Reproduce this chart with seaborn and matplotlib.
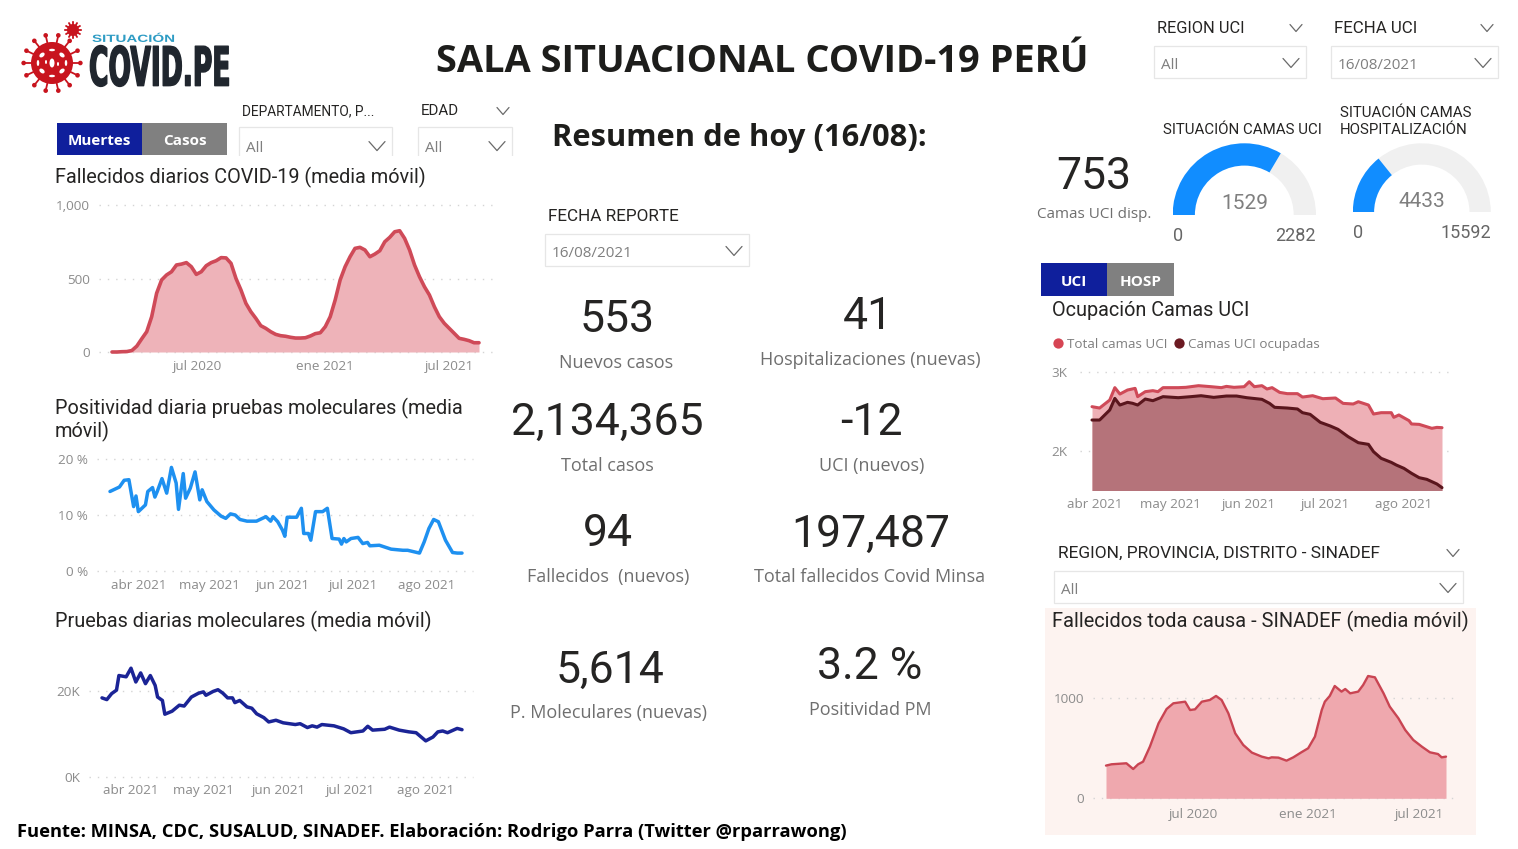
import numpy as np
import pandas as pd
import matplotlib
matplotlib.use('Agg')
import matplotlib.pyplot as plt
import matplotlib.patheffects as pe
from matplotlib.patches import Rectangle, Wedge, Circle, Ellipse
from matplotlib.transforms import Affine2D
import seaborn as sns

# ---- data ----
# fallecidos diarios, one value a week from 2020-03-01 to 2021-08-16
fallecidos = [0, 0, 2, 3, 10, 40, 90, 138, 240, 400, 490, 524, 546, 592, 598, 608, 580, 528, 546, 587,
              608, 621, 642, 640, 603, 500, 422, 331, 274, 229, 179, 161, 138, 120, 111, 107, 100, 95,
              95, 97, 109, 125, 131, 172, 240, 354, 490, 580, 648, 705, 712, 694, 648, 666, 689, 750,
              780, 818, 825, 773, 694, 592, 512, 444, 388, 308, 240, 195, 161, 127, 93, 86, 77, 63, 63]

# positividad, days since 2021-03-20
pos_dias = [0, 2, 4, 6, 8, 10, 11, 12, 15, 16, 18, 19, 20, 22, 24, 26, 28, 29, 31, 32, 34, 36, 38, 39,
            41, 44, 47, 49, 51, 53, 55, 58, 62, 66, 68, 69, 71, 73, 74, 75, 79, 81, 82, 84, 85, 87, 90,
            92, 94, 97, 98, 99, 100, 102, 105, 107, 109, 110, 114, 119, 124, 126, 131, 133, 135, 137,
            139, 142, 145, 147, 149]
positividad = [14.2, 14.6, 15.0, 16.2, 16.3, 11.5, 13.4, 10.6, 11.8, 14.2, 14.9, 13.2, 14.2, 16.5, 13.9,
               18.5, 15.7, 11.0, 17.4, 13.0, 14.8, 17.7, 12.7, 14.5, 12.4, 10.9, 9.8, 9.4, 10.2, 10.0,
               9.2, 8.9, 8.9, 9.7, 8.9, 9.7, 8.8, 7.3, 6.2, 9.6, 9.6, 11.2, 6.7, 6.7, 5.5, 10.6, 10.6,
               11.2, 5.8, 5.7, 4.8, 5.8, 5.2, 5.8, 6.0, 4.9, 5.1, 4.5, 4.6, 3.9, 3.7, 3.7, 3.2, 5.2,
               7.6, 9.2, 8.8, 5.5, 3.3, 3.2, 3.2]

# pruebas moleculares, days since 2021-03-20
pruebas_dias = [0, 2, 4, 6, 7, 10, 12, 14, 16, 18, 20, 22, 23, 25, 26, 29, 32, 34, 37, 40, 42, 43, 46, 48,
                50, 52, 54, 55, 57, 60, 62, 64, 67, 69, 72, 75, 80, 82, 85, 87, 89, 91, 96, 100, 103,
                108, 110, 112, 117, 119, 123, 127, 130, 134, 137, 139, 141, 143, 147, 149]
pruebas = [18400, 18000, 19400, 20200, 23600, 23300, 25300, 22100, 24200, 21700, 23600, 21300, 18600,
           17800, 14600, 15300, 16700, 16500, 18600, 19500, 19800, 19000, 19900, 20300, 19500, 18400,
           18400, 17300, 17800, 16300, 16000, 14700, 13800, 12800, 13200, 12600, 12200, 12400, 11500,
           11900, 11600, 12200, 11900, 11200, 10300, 10700, 11800, 10900, 11100, 11600, 10900, 10500,
           10300, 8400, 9300, 10500, 10700, 10300, 11300, 11000]

# camas UCI, days since 2021-03-31
total_dias = [0, 3, 7, 9, 11, 14, 17, 18, 21, 24, 26, 28, 34, 37, 42, 47, 51, 53, 56, 60, 62, 64, 67, 69,
              71, 74, 77, 81, 83, 87, 91, 96, 99, 103, 105, 109, 111, 114, 118, 119, 121, 125, 126, 129,
              134, 136, 138]
total_uci = [2557, 2540, 2641, 2798, 2717, 2768, 2789, 2684, 2747, 2760, 2747, 2798, 2798, 2802, 2823,
             2810, 2798, 2814, 2802, 2810, 2873, 2810, 2823, 2781, 2798, 2738, 2722, 2722, 2679, 2696,
             2658, 2667, 2599, 2591, 2620, 2578, 2464, 2481, 2481, 2422, 2452, 2380, 2338, 2333, 2283,
             2295, 2291]
ocup_dias = [0, 3, 7, 9, 11, 14, 16, 18, 21, 24, 28, 34, 39, 43, 48, 53, 57, 61, 67, 70, 72, 77, 81, 83,
             86, 90, 94, 97, 101, 105, 109, 111, 114, 118, 120, 123, 126, 129, 132, 136, 138]
ocupadas_uci = [2388, 2388, 2515, 2662, 2578, 2612, 2600, 2578, 2654, 2633, 2684, 2671, 2684, 2696, 2675,
                2692, 2692, 2671, 2650, 2599, 2549, 2540, 2528, 2481, 2460, 2359, 2312, 2270, 2177, 2101,
                2080, 1987, 1903, 1852, 1818, 1776, 1713, 1658, 1637, 1578, 1532]

# sinadef, days since 2020-02-13
sinadef_dias = [0, 9, 33, 44, 52, 60, 71, 85, 98, 109, 128, 136, 144, 155, 168, 178, 187, 198, 209, 222,
                236, 252, 263, 268, 279, 292, 303, 316, 327, 338, 349, 354, 362, 370, 381, 387, 395, 408,
                416, 424, 435, 449, 459, 473, 484, 497, 511, 524, 537, 543, 550]
sinadef = [325, 338, 348, 291, 338, 364, 513, 745, 887, 944, 960, 877, 884, 960, 977, 1017, 977, 844, 646,
           530, 454, 414, 397, 407, 404, 374, 407, 457, 497, 613, 877, 960, 1017, 1116, 1060, 1086, 1043,
           1060, 1126, 1215, 1202, 1043, 911, 795, 679, 580, 513, 457, 440, 407, 414]

gauge_uci = [1529, 2282]
gauge_hosp = [4433, 15592]

meses_largo = ['2020-07-03', '2021-01-04', '2021-07-04']
meses_largo_txt = ['jul 2020', 'ene 2021', 'jul 2021']
meses_corto = ['2021-04-01', '2021-05-01', '2021-06-01', '2021-07-01', '2021-08-01']
meses_corto_txt = ['abr 2021', 'may 2021', 'jun 2021', 'jul 2021', 'ago 2021']

# big numbers: value, caption, x/y of value, x/y of caption
kpis = [('553', 'Nuevos casos', 617, 316, 616, 361),
        ('41', 'Hospitalizaciones (nuevas)', 868, 313, 870, 358),
        ('2,134,365', 'Total casos', 607, 419, 607, 464),
        ('-12', 'UCI (nuevos)', 871, 419, 872, 464),
        ('94', 'Fallecidos  (nuevos)', 608, 530, 608, 575),
        ('197,487', 'Total fallecidos Covid Minsa', 871, 531, 870, 575),
        ('5,614', 'P. Moleculares (nuevas)', 610, 667, 608, 711),
        ('3.2 %', 'Positividad PM', 870, 663, 870, 708),
        ('753', 'Camas UCI disp.', 1094, 173, 1094, 213)]

W, H = 1518, 849
FIN = pd.Timestamp('2021-08-16')
ROJO, ROJO_F = '#CF4A58', '#EEB3B9'
DIN = 'Roboto'
SEGOE = 'Open Sans'
GRIS = '#8c8c8c'

sns.set_theme(style='white')
plt.rcParams['font.family'] = ['Open Sans', 'DejaVu Sans']
plt.rcParams['axes.unicode_minus'] = False

fig = plt.figure(figsize=(W / 100, H / 100), dpi=100, facecolor='white')

# overlay in pixel coordinates for the report furniture
bg = fig.add_axes([0, 0, 1, 1], zorder=0)
bg.set_xlim(0, W)
bg.set_ylim(H, 0)
bg.axis('off')


class Squeeze(pe.AbstractPathEffect):
    # the logo lettering is much narrower than any installed font
    def __init__(self, sx, lw=0):
        self.sx = sx
        self.lw = lw

    def draw_path(self, renderer, gc, tpath, affine, rgbFace=None):
        x0 = affine.to_values()[4]
        t = affine + Affine2D().translate(-x0, 0).scale(self.sx, 1).translate(x0, 0)
        gc0 = renderer.new_gc()
        gc0.copy_properties(gc)
        if self.lw:
            gc0.set_linewidth(self.lw)
            gc0.set_foreground(rgbFace)
        renderer.draw_path(gc0, tpath, t, rgbFace)
        gc0.restore()


def txt(x, y, s, size=11, color='#252423', family=DIN, ha='left', weight='normal', **kw):
    return bg.text(x, y + size * 0.12, s, fontsize=size, color=color, family=family, ha=ha, va='center',
                   weight=weight, **kw)


def chevron(x, y, w=7, h=4):
    bg.plot([x - w, x, x + w], [y - h, y + h, y - h], color='#6a6a6a', lw=0.9)


def slicer(x0, x1, y0, y1, value, label, lx, ly, lsize, lchev=None):
    bg.add_patch(Rectangle((x0, y0), x1 - x0, y1 - y0, fc='white', ec='#e6e6e6', lw=0.9))
    txt(x0 + 7, y0 + (y1 - y0) * 0.56, value, size=11, color='#7f7f7f', family=SEGOE)
    chevron(x1 - 15, y0 + (y1 - y0) * 0.53, w=8, h=4.5)
    txt(lx, ly, label, size=lsize)
    if lchev:
        chevron(lchev, ly + 1, w=6, h=3.5)


def boton(x0, x1, y0, y1, s, fc):
    bg.add_patch(Rectangle((x0, y0), x1 - x0, y1 - y0, fc=fc, ec='none'))
    txt((x0 + x1) / 2, (y0 + y1) / 2 + 1, s, size=11, color='white', family=SEGOE, ha='center', weight='bold')


def virus(cx, cy, r, n):
    ang = np.linspace(0, 2 * np.pi, n, endpoint=False)
    for a in ang:
        bg.plot([cx + r * 0.8 * np.cos(a), cx + r * 1.3 * np.cos(a)],
                [cy + r * 0.8 * np.sin(a), cy + r * 1.3 * np.sin(a)], color='#C8141E', lw=1.3)
        bg.add_patch(Circle((cx + r * 1.35 * np.cos(a), cy + r * 1.35 * np.sin(a)), r * 0.11, fc='#C8141E', ec='none'))
    bg.add_patch(Circle((cx, cy), r, fc='#C8141E', ec='none'))


def chart_ax(x0, x1, ytop, ybot):
    ax = fig.add_axes([x0 / W, 1 - ybot / H, (x1 - x0) / W, (ybot - ytop) / H], zorder=2)
    ax.patch.set_visible(False)
    return ax


def estilo(ax, yticks, ylabels, xticks, xlabels, pad_y=6.5, pad_x=6):
    sns.despine(ax=ax, left=True, bottom=True)
    ax.set_xlabel('')
    ax.set_ylabel('')
    ax.set_yticks(yticks)
    ax.set_yticklabels(ylabels)
    ax.set_xticks(pd.to_datetime(xticks))
    ax.set_xticklabels(xlabels)
    ax.tick_params(axis='both', length=0, labelsize=9.7, labelcolor=GRIS)
    ax.tick_params(axis='y', pad=pad_y)
    ax.tick_params(axis='x', pad=pad_x)
    ax.grid(axis='y', color='#d4d4d4', lw=1, linestyle=(0, (1, 5)))
    ax.grid(axis='x', visible=False)
    for g in ax.get_ygridlines():
        g.set_clip_on(False)
    for t in ax.get_xticklabels() + ax.get_yticklabels():
        t.set_family(SEGOE)


def xlim_px(ax, d0, d1, xs, xe):
    # keep the line between xs and xe px inside the axes box
    box = ax.get_position()
    x0, x1 = box.x0 * W, box.x1 * W
    ppd = (xe - xs) / (d1 - d0).days
    ax.set_xlim(d0 - pd.Timedelta(days=(xs - x0) / ppd), d1 + pd.Timedelta(days=(x1 - xe) / ppd))


# ---- header ----
virus(52, 63, 21, 14)
for dx, dy, w, h, a in [(0, 0, 5, 9, 0), (-10, -8, 4, 6, 50), (10, -8, 4, 6, -50), (-10, 8, 4, 6, -50),
                        (10, 8, 4, 6, 50), (0, -13, 6, 2.5, 0), (0, 13, 6, 2.5, 0), (-14, 0, 2.5, 6, 0),
                        (14, 0, 2.5, 6, 0), (-6, -1, 2, 4, 0), (6, 1, 2, 4, 0)]:
    bg.add_patch(Ellipse((52 + dx, 63 + dy), w, h, angle=a, fc='white', ec='none'))
virus(73, 30, 6, 12)
txt(92, 38, 'SITUACIÓN', size=7.5, color='#2E9CC4', family='Liberation Sans', weight='bold',
    path_effects=[Squeeze(1.45)])
txt(89, 66, 'COVID.PE', size=39, color='#20262E', family='Liberation Sans Narrow', weight='bold',
    path_effects=[Squeeze(0.49, lw=1.0)])
txt(762, 59, 'SALA SITUACIONAL COVID-19 PERÚ', size=27.4, color='#1d1d1b', family=SEGOE, ha='center', weight='bold')
txt(552, 135, 'Resumen de hoy (16/08):', size=22.2, color='#1d1d1b', family=SEGOE, weight='bold')

# ---- slicers and buttons ----
boton(57, 142, 123, 155, 'Muertes', '#0F1F9C')
boton(142, 227, 123, 155, 'Casos', '#808080')
boton(1041, 1107, 263, 296, 'UCI', '#0F1F9C')
boton(1107, 1174, 263, 296, 'HOSP', '#808080')
slicer(239, 392, 127, 163, 'All', 'DEPARTAMENTO, P...', 242, 110, 9.9)
slicer(418, 512, 127, 163, 'All', 'EDAD', 421, 110, 10.8, 503)
bg.add_patch(Rectangle((230, 156), 290, 12, fc='white', ec='none', zorder=3))
slicer(1154, 1306, 46, 78, 'All', 'REGION UCI', 1157, 27, 11.8, 1296)
slicer(1331, 1498, 46, 78, '16/08/2021', 'FECHA UCI', 1334, 27, 12.2, 1487)
slicer(545, 749, 234, 266, '16/08/2021', 'FECHA REPORTE', 548, 215, 12.3)
slicer(1054, 1463, 571, 603, 'All', 'REGION, PROVINCIA, DISTRITO - SINADEF', 1058, 552, 12.5, 1453)

# ---- big numbers ----
for valor, caption, vx, vy, cx, cy in kpis:
    txt(vx, vy, valor, size=32, color='#252423', ha='center')
    txt(cx, cy, caption, size=13 if vx < 1000 else 11, color='#6f6f6f', family=SEGOE, ha='center')

# ---- left charts ----
txt(55, 176, 'Fallecidos diarios COVID-19 (media móvil)', size=14.3)
ax1 = chart_ax(99, 492, 205, 352)
fechas1 = pd.date_range('2020-03-01', FIN, periods=len(fallecidos))
ax1.fill_between(fechas1, fallecidos, color=ROJO_F, lw=0)
sns.lineplot(x=fechas1, y=fallecidos, ax=ax1, color=ROJO, linewidth=2.6, clip_on=False)
ax1.set_ylim(0, 1000)
xlim_px(ax1, fechas1[0], FIN, 112, 479)
estilo(ax1, [0, 500, 1000], ['0', '500', '1,000'], meses_largo, meses_largo_txt)

txt(55, 407, 'Positividad diaria pruebas moleculares (media', size=14.3)
txt(55, 430, 'móvil)', size=14.3)
ax2 = chart_ax(97, 473, 459, 571)
fechas2 = pd.Timestamp('2021-03-20') + pd.to_timedelta(pos_dias, unit='D')
sns.lineplot(x=fechas2, y=positividad, ax=ax2, color='#1E90F0', linewidth=2.5, clip_on=False)
ax2.set_ylim(0, 20)
xlim_px(ax2, fechas2[0], FIN, 110, 462)
estilo(ax2, [0, 10, 20], ['0 %', '10 %', '20 %'], meses_corto, meses_corto_txt)

txt(55, 620, 'Pruebas diarias moleculares (media móvil)', size=14.3)
ax3 = chart_ax(89, 473, 648, 777)
fechas3 = pd.Timestamp('2021-03-20') + pd.to_timedelta(pruebas_dias, unit='D')
sns.lineplot(x=fechas3, y=pruebas, ax=ax3, color='#1B2496', linewidth=2.5, clip_on=False)
ax3.set_ylim(0, 30000)
xlim_px(ax3, fechas3[0], FIN, 102, 462)
estilo(ax3, [0, 20000], ['0K', '20K'], meses_corto, meses_corto_txt, pad_x=5)

# ---- gauges ----
for s, x, y in [('SITUACIÓN CAMAS UCI', 1163, 129), ('SITUACIÓN CAMAS', 1340, 112), ('HOSPITALIZACIÓN', 1340, 129)]:
    txt(x, y, s, size=10.8)

for (valor, tope), (cx, cy, r, grosor) in zip([gauge_uci, gauge_hosp],
                                             [(1244.3, 215, 71.7, 22.3), (1421.8, 212.3, 69, 21.3)]):
    g = fig.add_axes([(cx - r) / W, 1 - cy / H, 2 * r / W, r / H], zorder=2)
    g.set_xlim(-1, 1)
    g.set_ylim(0, 1)
    g.axis('off')
    ang = 180 - 180 * valor / tope
    g.add_patch(Wedge((0, 0), 1, 0, ang, width=grosor / r, fc='#F0F0F0', ec='none'))
    g.add_patch(Wedge((0, 0), 1, ang, 180, width=grosor / r, fc='#118DFF', ec='none'))
for s, x, y, size, c in [('1529', 1245, 202, 15, '#7f7f7f'), ('0', 1178, 234, 13, '#666666'),
                         ('2282', 1295, 234, 13, '#666666'), ('4433', 1422, 200, 15, '#7f7f7f'),
                         ('0', 1358, 231, 13, '#666666'), ('15592', 1466, 231, 13, '#666666')]:
    txt(x, y, s, size=size, color=c, ha='center')

# ---- camas UCI ----
txt(1052, 309, 'Ocupación Camas UCI', size=14.3)
bg.scatter([1058], [343], s=55, color='#D64554', lw=0)
bg.scatter([1179], [343], s=55, color='#6B1A22', lw=0)
txt(1067, 343, 'Total camas UCI', size=9.6, color='#7f7f7f', family=SEGOE)
txt(1188, 343, 'Camas UCI ocupadas', size=9.6, color='#7f7f7f', family=SEGOE)

ax4 = chart_ax(1080, 1448, 371.7, 490)
fechas4a = pd.Timestamp('2021-03-31') + pd.to_timedelta(total_dias, unit='D')
fechas4b = pd.Timestamp('2021-03-31') + pd.to_timedelta(ocup_dias, unit='D')
ax4.fill_between(fechas4a, total_uci, 1000, color='#EEB0B6', lw=0)
ax4.fill_between(fechas4b, ocupadas_uci, 1000, color='#B5737A', lw=0)
sns.lineplot(x=fechas4a, y=total_uci, ax=ax4, color=ROJO, linewidth=2.2, clip_on=False)
sns.lineplot(x=fechas4b, y=ocupadas_uci, ax=ax4, color='#5A161D', linewidth=2.2, clip_on=False)
ax4.set_ylim(1502, 3000)
xlim_px(ax4, fechas4a[0], FIN, 1092, 1442)
estilo(ax4, [2000, 3000], ['2K', '3K'], meses_corto, meses_corto_txt, pad_y=9)

# ---- sinadef ----
bg.add_patch(Rectangle((1045, 608), 431, 227, fc='#FDF3F0', ec='none'))
txt(1052, 620, 'Fallecidos toda causa - SINADEF (media móvil)', size=14.4)
ax5 = chart_ax(1092.7, 1456, 657.4, 798.3)
fechas5 = pd.Timestamp('2020-02-13') + pd.to_timedelta(sinadef_dias, unit='D')
ax5.fill_between(fechas5, sinadef, color='#EFA8AE', lw=0)
sns.lineplot(x=fechas5, y=sinadef, ax=ax5, color='#C94452', linewidth=1.7, clip_on=False)
ax5.set_ylim(0, 1400)
xlim_px(ax5, fechas5[0], FIN, 1106, 1446)
estilo(ax5, [0, 1000], ['0', '1000'], meses_largo, meses_largo_txt, pad_y=6, pad_x=7)

# ---- footer ----
txt(17, 830, 'Fuente: MINSA, CDC, SUSALUD, SINADEF. Elaboración: Rodrigo Parra (Twitter @rparrawong)',
    size=13.2, color='black', family=SEGOE, weight='bold')

fig.savefig('out.png', dpi=100)
